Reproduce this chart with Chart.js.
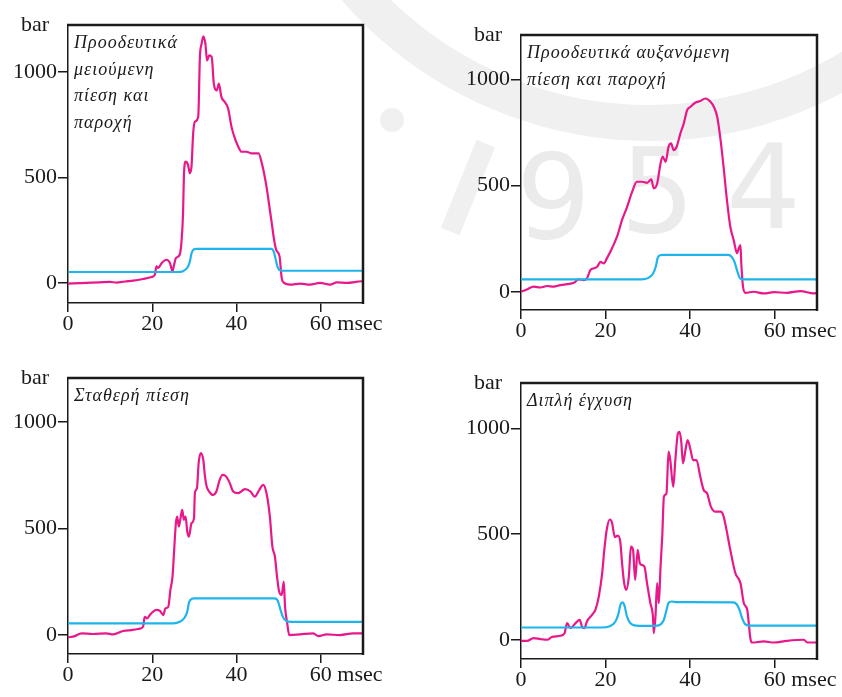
<!DOCTYPE html>
<html>
<head>
<meta charset="utf-8">
<script src="https://cdn.jsdelivr.net/npm/chart.js@4.4.1/dist/chart.umd.min.js"></script>
<style>
  html, body { margin: 0; padding: 0; background: #fff; }
  body { width: 842px; height: 697px; position: relative; overflow: hidden; }
  canvas { position: absolute; }
  .wm { position: absolute; color: #ebebeb; font: 118px "DejaVu Sans"; line-height: 1; }
  .ring { position: absolute; box-sizing: border-box; border: 36px solid #f0f0f0; border-radius: 50%; }
  .blob { position: absolute; background: #f0f0f0; }
</style>
</head>
<body>
<!-- faint watermark behind the plots -->
<div class="ring" style="left:242px;top:-675px;width:816px;height:816px"></div>
<div class="blob" style="left:380px;top:108px;width:24px;height:24px;border-radius:50%"></div>
<div class="blob" style="left:458px;top:140px;width:20px;height:95px;transform:rotate(22deg)"></div>
<div class="wm" style="left:516px;top:138px">9</div>
<div class="wm" style="left:620px;top:132px">5</div>
<div class="wm" style="left:726px;top:128px">4</div>

<canvas id="c1" width="421" height="348" style="left:0;top:0"></canvas>
<canvas id="c2" width="421" height="348" style="left:421px;top:0"></canvas>
<canvas id="c3" width="421" height="349" style="left:0;top:348px"></canvas>
<canvas id="c4" width="421" height="349" style="left:421px;top:348px"></canvas>

<script>
// axis ticks and labels
const xTicks = [0, 20, 40, 60];
const yTicks = [0, 500, 1000];
const xUnit = "msec";
const yUnit = "bar";

// panel captions
const title1 = ["Προοδευτικά", "μειούμενη", "πίεση και", "παροχή"];
const title2 = ["Προοδευτικά αυξανόμενη", "πίεση και παροχή"];
const title3 = ["Σταθερή πίεση"];
const title4 = ["Διπλή έγχυση"];

// [msec, bar] — injection pressure (magenta) and lift trace (cyan)
const press1 = [[0,-3],[3,-1],[7.5,3],[10,5],[11.5,2],[13.5,7],[15.5,11],[17.8,19],[19.8,28],[20.6,39],[21,79],[21.4,71],[22.2,94],[23.4,110],[24.2,94],[24.8,55],[25.1,79],[25.6,118],[26.5,134],[26.9,189],[27.3,331],[27.5,504],[27.9,575],[28.5,559],[28.9,520],[29.3,551],[29.7,709],[30.1,764],[30.9,787],[31.3,1071],[31.7,1134],[32.1,1169],[32.6,1134],[33,1055],[33.5,1079],[34.1,1071],[34.6,945],[35.3,913],[35.8,945],[36.4,882],[37.2,858],[38,827],[38.8,740],[39.6,685],[40.4,646],[41.2,622],[42.4,622],[43.6,614],[45.2,614],[46,567],[47.1,457],[47.9,346],[48.3,291],[48.9,205],[49.4,157],[50.2,126],[50.7,24],[51.1,3],[52.7,-8],[55.1,-3],[57.4,-8],[59.8,0],[62.2,-8],[63.8,3],[66.2,0],[69.7,8],[70,8]];
const lift1 = [[0,52],[26,52],[27.3,56],[28.3,72],[28.9,100],[29.3,140],[29.9,160],[30.5,162],[48.3,162],[48.8,150],[49.3,110],[49.8,72],[50.5,59],[51.5,58],[70,58]];

const press2 = [[0,0],[1.4,11],[3,24],[4.6,20],[6.2,27],[7.7,24],[9.3,31],[10.9,36],[12.5,42],[13.6,58],[14.8,55],[15.6,63],[16.4,102],[17.2,110],[18,118],[18.8,141],[19.6,133],[20.3,157],[21.5,204],[22.7,259],[23.9,338],[25.1,400],[26.3,471],[27.4,518],[28.6,518],[29.8,513],[30.8,529],[31.4,487],[32.2,510],[33,604],[33.5,636],[34.2,612],[34.9,683],[35.5,699],[36.1,667],[36.8,683],[37.7,746],[38.5,793],[39.3,856],[40.1,871],[41.2,890],[42.4,898],[43.6,910],[44.8,895],[45.6,871],[46.4,824],[47.2,714],[47.9,589],[48.7,432],[49.5,306],[50.3,243],[51.1,181],[51.5,204],[51.9,220],[52.1,133],[52.5,24],[53.1,-5],[55,0],[57.4,-8],[59.8,-2],[62.9,-5],[66.1,3],[69.2,-8],[70,-6]];
const lift2 = [[0,58],[28.5,58],[30,64],[31.2,85],[31.9,120],[32.3,158],[32.9,172],[33.6,174],[49,174],[49.8,165],[50.5,140],[51.1,100],[51.7,66],[52.4,58],[70,58]];

const press3 = [[0,-11],[1.6,-5],[3.2,8],[5.9,5],[9.1,8],[10.7,3],[13.1,19],[15.4,24],[17,30],[17.8,39],[18.2,86],[18.8,78],[19.4,94],[20.2,110],[21,118],[21.8,114],[22.6,94],[23.1,125],[23.8,133],[24.3,212],[24.8,274],[25.1,368],[25.6,525],[25.9,556],[26.3,509],[26.7,549],[27.1,588],[27.5,541],[27.9,556],[28.3,486],[28.7,462],[29.3,525],[29.9,549],[30.1,666],[30.6,690],[31,807],[31.5,854],[32.1,823],[32.5,745],[32.9,698],[33.5,674],[34.4,658],[35.2,674],[36,729],[36.7,752],[37.5,745],[38.4,713],[39.2,674],[40.4,666],[42,685],[43.3,674],[44.3,650],[45.4,682],[46.3,705],[47.1,666],[47.9,556],[48.5,415],[49.1,368],[49.6,274],[50.1,204],[50.7,188],[51.2,251],[51.5,133],[52,58],[52.5,0],[55,3],[58.2,8],[59.4,-5],[61.4,3],[64.5,0],[67.7,8],[70,8]];
const lift3 = [[0,55],[25,55],[26.5,62],[27.6,80],[28.3,110],[28.7,152],[29.4,170],[30,172],[49,172],[49.8,160],[50.4,120],[51,85],[51.8,66],[53,62],[70,62]];

const press4 = [[0,-5],[1.4,-5],[3,8],[4.6,3],[6.2,0],[7.3,13],[9.3,19],[10.3,31],[10.9,79],[11.7,55],[12.9,79],[13.9,94],[14.4,63],[15,55],[15.6,87],[16.8,118],[17.6,142],[18.4,205],[19.2,315],[19.7,425],[20.3,524],[21,569],[21.5,556],[22.2,485],[22.9,493],[23.5,461],[23.9,362],[24.4,268],[24.9,236],[25.5,299],[26,441],[26.5,425],[27,283],[27.6,425],[28.1,362],[28.6,354],[29.2,346],[29.8,268],[30.6,173],[31.2,110],[31.4,31],[31.8,110],[32.2,268],[32.6,173],[33,346],[33.4,488],[33.8,677],[34.4,693],[34.9,890],[35.3,850],[36,724],[36.5,850],[37.1,976],[37.5,984],[37.9,937],[38.3,835],[38.9,898],[39.4,945],[40.1,898],[40.7,850],[41.5,850],[42.4,772],[43.2,709],[44,693],[44.9,630],[46,606],[47.2,606],[47.8,591],[48.6,520],[49.5,425],[50.7,315],[51.9,268],[52.7,173],[53.5,142],[54.3,0],[54.7,-13],[57.4,-8],[59.8,-13],[62.9,-5],[66.9,0],[67.7,-13],[69.6,-13],[70,-13]];
const lift4 = [[0,58],[19,58],[21,64],[22.3,85],[23,120],[23.5,165],[24,177],[24.5,160],[25,115],[25.7,82],[26.8,68],[28,66],[31.4,66],[32.8,70],[33.8,95],[34.4,140],[34.9,175],[35.6,181],[37,178],[50.2,177],[51,168],[51.7,140],[52.3,102],[53,74],[54,67],[70,67]];

const COLORS = { press: "#E8188A", lift: "#1FB5EC", ink: "#1a1a1a" };
const SERIF = '"Liberation Serif", "DejaVu Serif", serif';

// top/right frame, "bar" label, caption, and " msec" after the 60 tick
const framePlugin = {
  id: "frame",
  afterDraw(chart, args, opts) {
    const { ctx, chartArea: a, scales } = chart;
    ctx.save();
    ctx.strokeStyle = COLORS.ink;
    ctx.lineWidth = 2.5;
    ctx.beginPath();
    ctx.moveTo(a.left - 1, a.top);
    ctx.lineTo(a.right, a.top);
    ctx.lineTo(a.right, a.bottom + 1);
    ctx.stroke();

    ctx.fillStyle = COLORS.ink;
    ctx.font = "22px " + SERIF;
    ctx.textAlign = "left";
    ctx.textBaseline = "alphabetic";
    ctx.fillText(yUnit, a.left - 47, a.top + 6);

    const x = scales.x;
    const last = xTicks[xTicks.length - 1];
    const px = x.getPixelForValue(last);
    const w = ctx.measureText(String(last)).width;
    ctx.textBaseline = "middle";
    ctx.fillText(xUnit, px + w / 2 + ctx.measureText(" ").width, a.bottom + 8 + 22 * 0.6);

    ctx.font = "italic 18px " + SERIF;
    ctx.letterSpacing = "1px";
    ctx.textBaseline = "alphabetic";
    opts.lines.forEach((t, i) => ctx.fillText(t, a.left + 6, a.top + 23 + i * 26.5));
    ctx.restore();
  },
};

function toPoints(pairs) {
  return pairs.map((p) => ({ x: p[0], y: p[1] }));
}

function makePanel(id, press, lift, lines, yMin, yMax, pad, yWidth, xHeight) {
  new Chart(document.getElementById(id), {
    type: "line",
    data: {
      datasets: [
        { data: toPoints(lift), borderColor: COLORS.lift, borderWidth: 2.2, pointRadius: 0, cubicInterpolationMode: "monotone" },
        { data: toPoints(press), borderColor: COLORS.press, borderWidth: 2.2, pointRadius: 0, cubicInterpolationMode: "monotone" },
      ],
    },
    options: {
      responsive: false,
      animation: false,
      layout: { padding: { left: 0, top: pad.top, right: pad.right, bottom: 0 } },
      plugins: { legend: { display: false }, tooltip: { enabled: false }, frame: { lines } },
      scales: {
        x: {
          type: "linear",
          min: 0,
          max: 70,
          afterBuildTicks: (s) => { s.ticks = xTicks.map((v) => ({ value: v })); },
          afterFit: (s) => { s.height = xHeight; },
          grid: { drawOnChartArea: false, drawTicks: true, tickLength: 9, color: COLORS.ink, lineWidth: 1.5 },
          border: { display: true, color: COLORS.ink, width: 1.5 },
          ticks: { color: COLORS.ink, font: { family: SERIF, size: 22 }, padding: -1, maxRotation: 0, autoSkip: false, callback: (v) => String(v) },
        },
        y: {
          type: "linear",
          min: yMin,
          max: yMax,
          afterBuildTicks: (s) => { s.ticks = yTicks.map((v) => ({ value: v })); },
          afterFit: (s) => { s.width = yWidth; },
          grid: { drawOnChartArea: false, drawTicks: true, tickLength: 10, color: COLORS.ink, lineWidth: 1.5 },
          border: { display: true, color: COLORS.ink, width: 1.5 },
          ticks: { color: COLORS.ink, font: { family: SERIF, size: 22 }, padding: 1, autoSkip: false, callback: (v) => String(v) },
        },
      },
    },
    plugins: [framePlugin],
  });
}

makePanel("c1", press1, lift1, title1, -95, 1223, { top: 25, right: 58 }, 68, 45);
makePanel("c2", press2, lift2, title2, -86, 1209, { top: 35, right: 25 }, 100, 38);
makePanel("c3", press3, lift3, title3, -89, 1207, { top: 30, right: 58 }, 68, 43);
makePanel("c4", press4, lift4, title4, -91, 1215, { top: 35, right: 25 }, 100, 38);
</script>
</body>
</html>
